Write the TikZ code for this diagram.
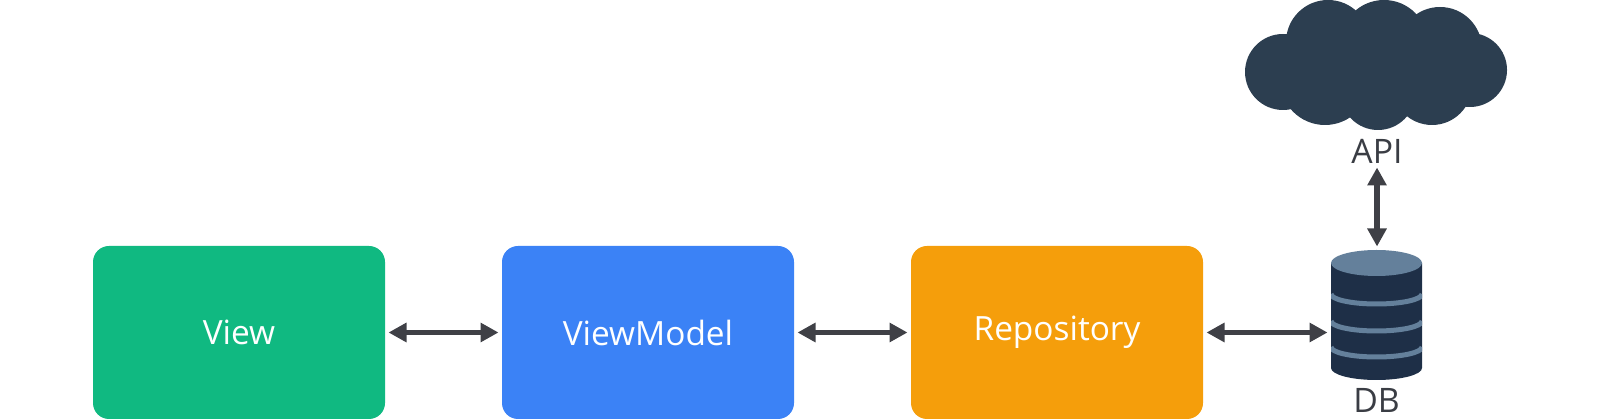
\documentclass[tikz,border=0pt]{standalone}
\usepackage{fontspec}
\setmainfont{Open Sans}
\usetikzlibrary{arrows.meta}
\definecolor{viewgreen}{HTML}{10B981}
\definecolor{modelblue}{HTML}{3B82F6}
\definecolor{repoorange}{HTML}{F59E0B}
\definecolor{cloudnavy}{HTML}{2C3E50}
\definecolor{dbnavy}{HTML}{1E2F47}
\definecolor{dbsteel}{HTML}{64809B}
\definecolor{arrowgrey}{HTML}{3F4046}
\definecolor{labelgrey}{HTML}{3A3D44}
\tikzset{
	layerbox/.style={rounded corners=0.16cm, minimum width=2.92cm, minimum height=1.73cm, inner sep=0, outer sep=0, text=white, font=\fontsize{9.5pt}{12pt}\selectfont},
	storelabel/.style={inner sep=0, outer sep=0, text=labelgrey, font=\fontsize{9.6pt}{12pt}\selectfont},
	link/.style={<->, >={Triangle[length=0.18cm,width=0.185cm]}, line width=0.055cm, draw=arrowgrey, shorten <=0.035cm, shorten >=0.035cm},
	dbband/.style={line width=0.05cm, draw=dbsteel}
}
\begin{document}
\begin{tikzpicture}
	\useasboundingbox (0, 0) rectangle (16, 4.19);
	% the three layers
	\node (view) [layerbox, fill=viewgreen] at (2.39, 0.865) {View};
	\node (viewmodel) [layerbox, fill=modelblue] at (6.48, 0.865) {ViewModel};
	\node (repository) [layerbox, fill=repoorange] at (10.57, 0.865) {Repository};
	% cloud
	\fill [cloudnavy] (12.83, 3.47) circle (0.38);
	\fill [cloudnavy] (13.28, 3.77) circle (0.42);
	\fill [cloudnavy] (13.84, 3.75) circle (0.44);
	\fill [cloudnavy] (14.40, 3.70) circle (0.42);
	\fill [cloudnavy] (14.70, 3.49) circle (0.37);
	\fill [cloudnavy] (13.25, 3.39) circle (0.45);
	\fill [cloudnavy] (13.78, 3.265) circle (0.375);
	\fill [cloudnavy] (14.32, 3.34) circle (0.40);
	\node (api) [storelabel, anchor=base] at (13.77, 2.55) {API};
	% database
	\begin{scope}
		\clip (13.31, 1.56) -- (13.31, 0.51) arc (180:360:0.455 and 0.12) -- (14.22, 1.56) -- cycle;
		\fill [dbnavy] (13.2, 0.3) rectangle (14.3, 1.6);
		\draw [dbband] (13.31, 1.25) arc (180:360:0.455 and 0.1);
		\draw [dbband] (13.31, 0.98) arc (180:360:0.455 and 0.1);
		\draw [dbband] (13.31, 0.72) arc (180:360:0.455 and 0.1);
	\end{scope}
	\fill [dbsteel] (13.765, 1.56) ellipse (0.455 and 0.13);
	\node (db) [inner sep=0, outer sep=0, minimum width=0.91cm, minimum height=1.3cm] at (13.765, 1.04) {};
	\node (dblabel) [storelabel, anchor=base] at (13.765, 0.06) {DB};
	% links
	\draw [link] (view) -- (viewmodel);
	\draw [link] (viewmodel) -- (repository);
	\draw [link] (repository.east) -- (repository.east -| db.west);
	\draw [link] (api.south) -- (api.south |- db.north);
\end{tikzpicture}
\end{document}
